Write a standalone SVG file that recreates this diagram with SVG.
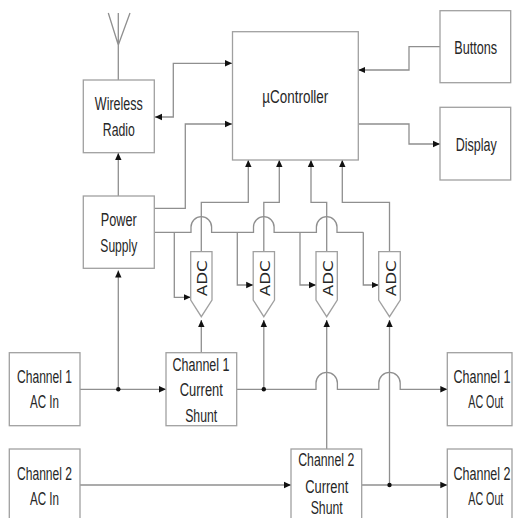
<svg xmlns="http://www.w3.org/2000/svg" width="514" height="518" viewBox="0 0 514 518">
<style>
.box{fill:#fff;stroke:#a0a0a0;stroke-width:1.3}
.ln{fill:none;stroke:#8f8f8f;stroke-width:1.3}
.t{font-family:"Liberation Sans",Arial,sans-serif;font-size:18.5px;fill:#262626;text-anchor:middle}
.adc{font-family:"DejaVu Sans","Liberation Sans",sans-serif;font-size:14px;fill:#262626;text-anchor:middle}
.dot{fill:#111}
</style>
<defs>
<marker id="ar" markerUnits="userSpaceOnUse" markerWidth="8" markerHeight="8" viewBox="0 0 8 8" refX="7" refY="4" orient="auto-start-reverse">
<path d="M0,0.8 L7,4 L0,7.2 Z" fill="#111"/>
</marker>
</defs>
<rect width="514" height="518" fill="#fff"/>

<g id="connectors">
<path class="ln" d="M118.3,80 V45 M118.3,45 L108.3,13 M118.3,45 V13 M118.3,45 L130,13"/>
<path class="ln" d="M155,117 H173.3 V63.3 H232" marker-start="url(#ar)" marker-end="url(#ar)"/>
<path class="ln" d="M118.3,196 V153" marker-end="url(#ar)"/>
<path class="ln" d="M154.3,208.3 H185.3 V124 H232" marker-end="url(#ar)"/>
<path class="ln" d="M358.3,124 H409 V144 H440" marker-end="url(#ar)"/>
<path class="ln" d="M440,46.7 H409 V70 H358.3" marker-end="url(#ar)"/>
<path class="ln" d="M201.3,251.7 V202.3 H248.3 V160" marker-end="url(#ar)"/>
<path class="ln" d="M263.8,251.7 V202.3 H279.3 V160" marker-end="url(#ar)"/>
<path class="ln" d="M326.7,251.7 V202.3 H311 V160" marker-end="url(#ar)"/>
<path class="ln" d="M389.5,251.7 V202.3 H342.3 V160" marker-end="url(#ar)"/>
<path class="ln" d="M154.3,232.3 H191 V227 A10.3,10.3 0 0 1 211.6,227 V232.3 H253.5 V227 A10.3,10.3 0 0 1 274.1,227 V232.3 H316.4 V227 A10.3,10.3 0 0 1 337,227 V232.3 H363.3"/>
<path class="ln" d="M174.3,232.3 V297.3 H190.7" marker-end="url(#ar)"/>
<path class="ln" d="M237.3,232.3 V285 H253.2" marker-end="url(#ar)"/>
<path class="ln" d="M300,232.3 V285 H316" marker-end="url(#ar)"/>
<path class="ln" d="M363.3,232.3 V285 H378.7" marker-end="url(#ar)"/>
<path class="ln" d="M201.3,352.7 V320" marker-end="url(#ar)"/>
<path class="ln" d="M263.8,389.3 V320" marker-end="url(#ar)"/>
<path class="ln" d="M326.7,449 V320" marker-end="url(#ar)"/>
<path class="ln" d="M389.5,485 V320" marker-end="url(#ar)"/>
<path class="ln" d="M80,389.3 H166" marker-end="url(#ar)"/>
<path class="ln" d="M118.3,389.3 V270.5" marker-end="url(#ar)"/>
<path class="ln" d="M236.7,389.3 H316 V383 A10.7,10.7 0 0 1 337.4,383 V389.3 H378.8 V383 A10.7,10.7 0 0 1 400.2,383 V389.3 H447.3" marker-end="url(#ar)"/>
<path class="ln" d="M80,485 H291" marker-end="url(#ar)"/>
<path class="ln" d="M361.7,485 H447.3" marker-end="url(#ar)"/>
<circle class="dot" cx="118.3" cy="389.3" r="2.2"/>
<circle class="dot" cx="263.8" cy="389.3" r="2.2"/>
<circle class="dot" cx="389.5" cy="485" r="2.2"/>
</g>

<g id="wireless-radio">
<rect class="box" x="83.3" y="80" width="71" height="72.7"/>
<text class="t" transform="translate(118.8,110) scale(0.67,1)" textLength="71.6" lengthAdjust="spacingAndGlyphs">Wireless</text>
<text class="t" transform="translate(118.8,136) scale(0.67,1)" textLength="47.8" lengthAdjust="spacingAndGlyphs">Radio</text>
</g>
<g id="power-supply">
<rect class="box" x="83.3" y="196" width="71" height="72.3"/>
<text class="t" transform="translate(118.8,226) scale(0.67,1)" textLength="53.7" lengthAdjust="spacingAndGlyphs">Power</text>
<text class="t" transform="translate(118.8,251.7) scale(0.67,1)" textLength="55.2" lengthAdjust="spacingAndGlyphs">Supply</text>
</g>
<g id="ucontroller">
<rect class="box" x="232.5" y="31.7" width="125.8" height="128.3"/>
<text class="t" transform="translate(295.3,103.3) scale(0.67,1)" textLength="98.5" lengthAdjust="spacingAndGlyphs">µController</text>
</g>
<g id="buttons">
<rect class="box" x="440" y="10.7" width="70.7" height="72"/>
<text class="t" transform="translate(475.7,54) scale(0.67,1)" textLength="64.2" lengthAdjust="spacingAndGlyphs">Buttons</text>
</g>
<g id="display">
<rect class="box" x="440" y="107.3" width="70.7" height="72.7"/>
<text class="t" transform="translate(476.3,150.7) scale(0.67,1)" textLength="61.2" lengthAdjust="spacingAndGlyphs">Display</text>
</g>

<g id="adc1">
<path class="box" d="M190.7,251.7 H212 V300 L201.3,316.7 L190.7,300 Z"/>
<text class="adc" transform="translate(207.3,278.3) rotate(-90)" textLength="36" lengthAdjust="spacingAndGlyphs">ADC</text>
</g>
<g id="adc2">
<path class="box" d="M253.2,251.7 H274.5 V300 L263.8,316.7 L253.2,300 Z"/>
<text class="adc" transform="translate(269.8,278.3) rotate(-90)" textLength="36" lengthAdjust="spacingAndGlyphs">ADC</text>
</g>
<g id="adc3">
<path class="box" d="M316,251.7 H337.3 V300 L326.7,316.7 L316,300 Z"/>
<text class="adc" transform="translate(332.7,278.3) rotate(-90)" textLength="36" lengthAdjust="spacingAndGlyphs">ADC</text>
</g>
<g id="adc4">
<path class="box" d="M378.7,251.7 H400.3 V300 L389.5,316.7 L378.7,300 Z"/>
<text class="adc" transform="translate(395.5,278.3) rotate(-90)" textLength="36" lengthAdjust="spacingAndGlyphs">ADC</text>
</g>

<g id="ch1-ac-in">
<rect class="box" x="9.3" y="352.7" width="70.7" height="73"/>
<text class="t" transform="translate(44.5,383) scale(0.67,1)" textLength="82.1" lengthAdjust="spacingAndGlyphs">Channel 1</text>
<text class="t" transform="translate(44.5,408.3) scale(0.67,1)" textLength="43.3" lengthAdjust="spacingAndGlyphs">AC In</text>
</g>
<g id="ch1-shunt">
<rect class="box" x="166" y="352.7" width="70.7" height="73"/>
<text class="t" transform="translate(201,370.7) scale(0.67,1)" textLength="85.1" lengthAdjust="spacingAndGlyphs">Channel 1</text>
<text class="t" transform="translate(201.3,396) scale(0.67,1)" textLength="64.2" lengthAdjust="spacingAndGlyphs">Current</text>
<text class="t" transform="translate(201.2,421.7) scale(0.67,1)" textLength="47.8" lengthAdjust="spacingAndGlyphs">Shunt</text>
</g>
<g id="ch1-ac-out">
<rect class="box" x="447.3" y="352.7" width="64.7" height="73"/>
<text class="t" transform="translate(482,383) scale(0.67,1)" textLength="85.1" lengthAdjust="spacingAndGlyphs">Channel 1</text>
<text class="t" transform="translate(485.8,408.3) scale(0.67,1)" textLength="52.2" lengthAdjust="spacingAndGlyphs">AC Out</text>
</g>
<g id="ch2-ac-in">
<rect class="box" x="9.3" y="449" width="70.7" height="76"/>
<text class="t" transform="translate(44.5,480) scale(0.67,1)" textLength="82.1" lengthAdjust="spacingAndGlyphs">Channel 2</text>
<text class="t" transform="translate(44.5,505) scale(0.67,1)" textLength="43.3" lengthAdjust="spacingAndGlyphs">AC In</text>
</g>
<g id="ch2-shunt">
<rect class="box" x="291" y="449" width="70.7" height="76"/>
<text class="t" transform="translate(326.2,466) scale(0.67,1)" textLength="83.6" lengthAdjust="spacingAndGlyphs">Channel 2</text>
<text class="t" transform="translate(326.7,492.7) scale(0.67,1)" textLength="64.2" lengthAdjust="spacingAndGlyphs">Current</text>
<text class="t" transform="translate(326.7,514) scale(0.67,1)" textLength="47.8" lengthAdjust="spacingAndGlyphs">Shunt</text>
</g>
<g id="ch2-ac-out">
<rect class="box" x="447.3" y="449" width="64.7" height="76"/>
<text class="t" transform="translate(482,480) scale(0.67,1)" textLength="85.1" lengthAdjust="spacingAndGlyphs">Channel 2</text>
<text class="t" transform="translate(485.8,505) scale(0.67,1)" textLength="52.2" lengthAdjust="spacingAndGlyphs">AC Out</text>
</g>
</svg>
